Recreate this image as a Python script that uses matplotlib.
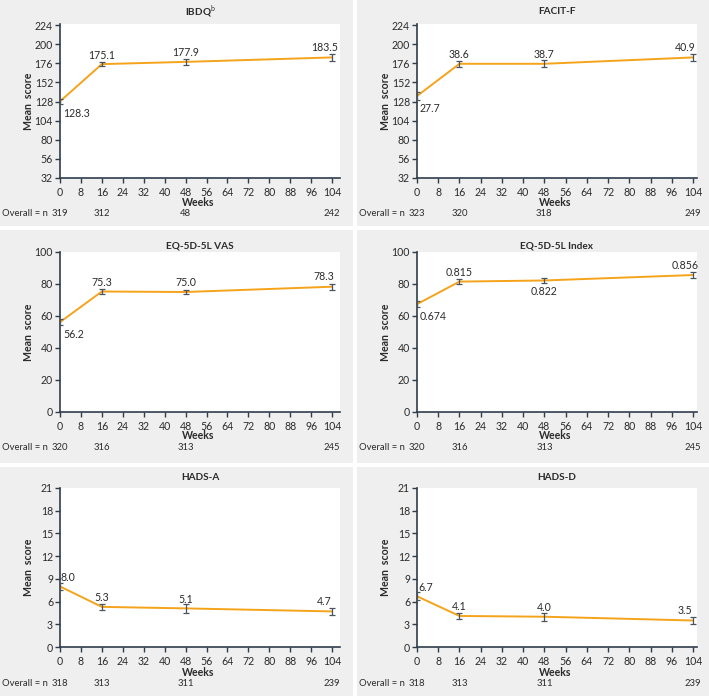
import matplotlib
matplotlib.use("Agg")
import matplotlib.pyplot as plt
import matplotlib.transforms as mtransforms
from matplotlib.patches import Rectangle

plt.rcParams['font.family'] = ['Lato', 'DejaVu Sans']
plt.rcParams['mathtext.fontset'] = 'custom'
plt.rcParams['mathtext.rm'] = 'Lato'
plt.rcParams['mathtext.bf'] = 'Lato:bold'

# ---------------- data ----------------
weeks = [0, 16, 48, 104]
xticks = list(range(0, 105, 8))

titles = [r"$\mathbf{IBDQ}^{\mathrm{b}}$", "FACIT-F", "EQ-5D-5L VAS", "EQ-5D-5L Index", "HADS-A", "HADS-D"]

# plotted positions (as drawn on each panel's axis)
ibdq_y = [128.3, 175.1, 177.9, 183.5]
facit_y = [135.0, 175.5, 175.5, 183.5]
vas_y = [56.2, 75.3, 75.0, 78.3]
index_y = [67.4, 81.5, 82.2, 85.6]
hadsa_y = [8.0, 5.3, 5.1, 4.7]
hadsd_y = [6.7, 4.1, 4.0, 3.5]

# error bar half-widths
ibdq_err = [3.5, 3.0, 3.5, 4.5]
facit_err = [4.5, 3.5, 4.5, 4.5]
vas_err = [2.0, 1.5, 1.5, 2.0]
index_err = [2.0, 1.5, 1.5, 2.0]
hadsa_err = [0.5, 0.35, 0.55, 0.5]
hadsd_err = [0.55, 0.4, 0.5, 0.45]

# printed value labels
ibdq_lab = ["128.3", "175.1", "177.9", "183.5"]
facit_lab = ["27.7", "38.6", "38.7", "40.9"]
vas_lab = ["56.2", "75.3", "75.0", "78.3"]
index_lab = ["0.674", "0.815", "0.822", "0.856"]
hadsa_lab = ["8.0", "5.3", "5.1", "4.7"]
hadsd_lab = ["6.7", "4.1", "4.0", "3.5"]

# patients per visit
ibdq_n = [319, 312, 48, 242]
facit_n = [323, 320, 318, 249]
vas_n = [320, 316, 313, 245]
index_n = [320, 316, 313, 245]
hadsa_n = [318, 313, 311, 239]
hadsd_n = [318, 313, 311, 239]

yticks_qol = list(range(32, 225, 24))
yticks_eq = list(range(0, 101, 20))
yticks_hads = list(range(0, 22, 3))

panels = [
    (ibdq_y, ibdq_err, ibdq_lab, ibdq_n, yticks_qol),
    (facit_y, facit_err, facit_lab, facit_n, yticks_qol),
    (vas_y, vas_err, vas_lab, vas_n, yticks_eq),
    (index_y, index_err, index_lab, index_n, yticks_eq),
    (hadsa_y, hadsa_err, hadsa_lab, hadsa_n, yticks_hads),
    (hadsd_y, hadsd_err, hadsd_lab, hadsd_n, yticks_hads),
]

# label placement (pixel offsets, alignment) -- style only
BR = ((3, -12), 'left')     # below right
AB = ((0, 9), 'center')     # above
AL = ((-8, 10), 'center')   # above left
BE = ((0, -11), 'center')   # below
AR = ((1, 9), 'left')       # above right
placements = [
    [BR, AB, AB, AL],
    [BR, AB, AB, AL],
    [BR, AB, AB, AL],
    [BR, AB, BE, AL],
    [AR, AB, AB, AL],
    [AR, AB, AB, AL],
]

# ---------------- layout (pixels) ----------------
W, H = 709, 696
fig = plt.figure(figsize=(W / 100, H / 100), dpi=100)
fig.patch.set_facecolor('white')

PANEL = '#efefef'
ORANGE = '#F5A31A'
DARK = '#2f3d4b'
TXT = '#2b2b2b'

col_px = [(0, 353), (357, 709)]
row_px = [(0, 226), (230, 463), (467, 696)]
ax_left = [60, 417]
ax_right = [340, 697]
ax_rows = [(24, 178), (252, 412), (488, 647)]
title_y = [12, 246, 477]
weeks_y = [202, 436, 672]
n_y = [213, 447, 683]
ylabel_x = [28, 385]
ylims = [(32, 225.5), (0, 100), (0, 21)]
xlims = [(0, 107), (0, 105.5)]

FS_TICK = 7.6
FS_LAB = 7.6
FS_AXIS = 7.6
FS_TITLE = 7.2
FS_N = 6.8


def fx(px):
    return px / W


def fy(py):
    return 1 - py / H


for r in range(3):
    for c in range(2):
        x0, x1 = col_px[c]
        y0, y1 = row_px[r]
        fig.patches.append(Rectangle((fx(x0), fy(y1)), fx(x1 - x0), (y1 - y0) / H,
                                     transform=fig.transFigure, facecolor=PANEL,
                                     edgecolor='none', zorder=-10))

for i, (ys, errs, labs, ns, yt) in enumerate(panels):
    r, c = divmod(i, 2)
    top, bot = ax_rows[r]
    ax = fig.add_axes([fx(ax_left[c]), fy(bot), fx(ax_right[c] - ax_left[c]), (bot - top) / H])
    ax.set_zorder(5)
    ax.set_facecolor('white')
    ax.plot(weeks, ys, color=ORANGE, lw=1.4, zorder=2, solid_capstyle='round')
    ax.errorbar(weeks, ys, yerr=errs, fmt='none', ecolor='#4a545e', elinewidth=0.9,
                capsize=2.2, capthick=0.9, zorder=3)
    for k in range(4):
        (dx, dy), ha = placements[i][k]
        ax.annotate(labs[k], (weeks[k], ys[k]), xytext=(dx, dy), textcoords='offset pixels',
                    ha=ha, va='center', fontsize=FS_LAB, color=TXT, zorder=4)
    ax.set_xlim(*xlims[c])
    ax.set_ylim(*ylims[r])
    ax.set_xticks(xticks)
    ax.set_yticks(yt)
    for s in ['top', 'right']:
        ax.spines[s].set_visible(False)
    for s in ['left', 'bottom']:
        ax.spines[s].set_color(DARK)
        ax.spines[s].set_linewidth(1.2)
    ax.tick_params(direction='out', length=3.5, width=1.0, color=DARK, labelsize=FS_TICK,
                   labelcolor=TXT)
    ax.tick_params(axis='x', pad=3.0)
    ax.tick_params(axis='y', pad=1.5)
    cx = (ax_left[c] + ax_right[c]) / 2
    fig.text(fx(cx), fy(title_y[r]), titles[i], ha='center', va='center',
             fontsize=FS_TITLE, fontweight='bold', color=TXT)
    fig.text(fx(cx - 2), fy(weeks_y[r]), 'Weeks', ha='center', va='center',
             fontsize=FS_AXIS, fontweight='bold', color=TXT)
    fig.text(fx(ylabel_x[c]), fy((top + bot) / 2), 'Mean  score', ha='center', va='center',
             rotation=90, fontsize=FS_AXIS, fontweight='bold', color=TXT)
    trans = mtransforms.blended_transform_factory(ax.transData, fig.transFigure)
    for k in range(4):
        ax.text(weeks[k], fy(n_y[r]), str(ns[k]), transform=trans, ha='center', va='center',
                fontsize=FS_N, color=TXT, clip_on=False)
    fig.text(fx(ax_left[c] - 12), fy(n_y[r]), 'Overall = n', ha='right', va='center',
             fontsize=FS_N, color=TXT)

fig.savefig('out.png', dpi=100, facecolor='white')
